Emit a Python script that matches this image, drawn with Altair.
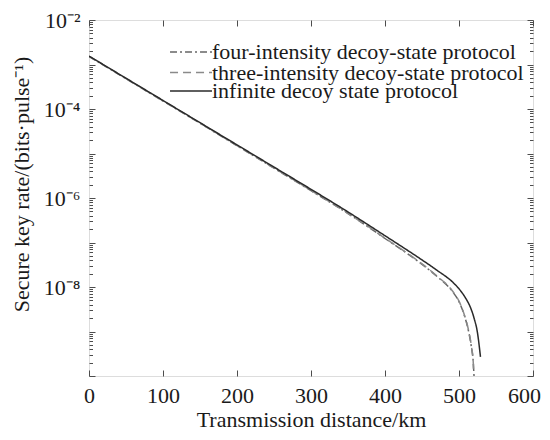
import altair as alt
import pandas as pd

# ---------------- data ----------------
series_names = [
    "four-intensity decoy-state protocol",
    "three-intensity decoy-state protocol",
    "infinite decoy state protocol",
]
series_colors = ["#666666", "#8a8a8a", "#2a2a2a"]
series_dashes = [[7, 3, 2, 3], [8, 5], [1, 0]]

four_km = [0, 50, 100, 150, 200, 250, 300, 350, 380, 400, 425, 450, 470, 492, 500, 508,
           513, 517, 519.3, 520.3]
four_rate = [1.514e-3, 4.79e-4, 1.514e-4, 4.79e-5, 1.496e-5, 4.68e-6, 1.46e-6, 4.47e-7,
             2.09e-7, 1.23e-7, 6.46e-8, 3.24e-8, 1.74e-8, 7.59e-9, 4.68e-9, 2.09e-9,
             1.0e-9, 4.17e-10, 2.0e-10, 1.0e-10]

three_km = [0, 50, 100, 150, 200, 250, 300, 350, 380, 400, 425, 450, 470, 492, 500, 508,
            513, 517, 519.2, 519.6]
three_rate = [1.53e-3, 4.84e-4, 1.53e-4, 4.84e-5, 1.51e-5, 4.73e-6, 1.48e-6, 4.52e-7,
              2.12e-7, 1.25e-7, 6.6e-8, 3.3e-8, 1.78e-8, 7.8e-9, 4.8e-9, 2.15e-9,
              1.05e-9, 4.4e-10, 2.1e-10, 1.4e-10]

inf_km = [0, 50, 100, 150, 200, 250, 300, 350, 380, 400, 425, 450, 470, 492, 500, 510,
          515, 520, 525, 529]
inf_rate = [1.549e-3, 4.91e-4, 1.556e-4, 4.93e-5, 1.563e-5, 4.95e-6, 1.57e-6, 4.86e-7,
            2.33e-7, 1.42e-7, 7.64e-8, 4.06e-8, 2.39e-8, 1.26e-8, 9.1e-9, 5.25e-9,
            3.63e-9, 2.09e-9, 9.3e-10, 2.7e-10]

x_ticks = [0, 100, 200, 300, 400, 500, 600]
y_labeled = [1e-2, 1e-4, 1e-6, 1e-8]
y_labels = ["10⁻²", "10⁻⁴", "10⁻⁶", "10⁻⁸"]
decades = [10.0 ** k for k in range(-10, -1)]
minor = [m * 10.0 ** k for k in range(-10, -2) for m in range(2, 10)]

# ---------------- table ----------------
rows = []
for name, kms, rates in [(series_names[0], four_km, four_rate),
                         (series_names[1], three_km, three_rate),
                         (series_names[2], inf_km, inf_rate)]:
    for k, r in zip(kms, rates):
        rows.append({"km": k, "rate": r, "protocol": name})
df = pd.DataFrame(rows)

W, H = 444, 356
FONT = "Liberation Serif"
FS = 22
TXT = "#1a1a1a"
FRAME = "#4d4d4d"
legend_rows_y = [21, 41.5, 60]

x_scale = alt.Scale(domain=[0, 600], nice=False, zero=False)
y_scale = alt.Scale(type="log", domain=[1e-10, 1e-2], nice=False)

label_expr = ""
for v, lab in zip(y_labeled, y_labels):
    label_expr += f"datum.value > {v / 2} ? '{lab}' : "
label_expr += "''"

x_main_axis = alt.Axis(
    orient="bottom", values=x_ticks, ticks=False, domain=False, grid=False,
    labelFont=FONT, labelFontSize=FS, labelColor=TXT, labelPadding=9, labelFlush=False,
    labelOffset={"condition": {"test": "datum.value == 600", "value": -9}, "value": 0},
    title="Transmission distance/km", titleFont=FONT, titleFontSize=FS,
    titleFontWeight="normal", titleColor=TXT, titleX=W / 2, titleY=50,
    titleAlign="center", titleBaseline="alphabetic")
y_main_axis = alt.Axis(
    orient="left", values=y_labeled, labelExpr=label_expr, ticks=False, domain=False,
    grid=False, labelFont=FONT, labelFontSize=FS, labelColor=TXT, labelPadding=9,
    title="Secure key rate/(bits·pulse⁻¹)", titleFont=FONT, titleFontSize=FS,
    titleFontWeight="normal", titleColor=TXT, titleX=-68, titleY=164,
    titleAngle=270, titleAlign="center", titleBaseline="middle")


def series_layer(i, with_axes):
    name = series_names[i]
    leg = alt.Legend(
        orient="none", legendX=91, legendY=legend_rows_y[i], title=None, padding=0,
        symbolType="M-4,0H4", symbolSize=110, symbolStrokeWidth=1.5,
        labelFont=FONT, labelFontSize=FS, labelColor=TXT, labelLimit=400,
        labelOffset=10)
    return alt.Chart(df).transform_filter(alt.datum.protocol == name).mark_line(
        clip=True, strokeWidth=1.5, interpolate="monotone"
    ).encode(
        x=alt.X("km:Q", scale=x_scale, axis=x_main_axis if with_axes else None),
        y=alt.Y("rate:Q", scale=y_scale, axis=y_main_axis if with_axes else None),
        color=alt.Color("protocol:N", scale=alt.Scale(domain=[name],
                        range=[series_colors[i]]), legend=leg),
        strokeDash=alt.StrokeDash("protocol:N", scale=alt.Scale(domain=[name],
                        range=[series_dashes[i]]), legend=leg),
    )


def tick_layer(xaxis, yaxis):
    return alt.Chart(df).mark_line(strokeOpacity=0).encode(
        x=alt.X("km:Q", scale=x_scale, axis=xaxis),
        y=alt.Y("rate:Q", scale=y_scale, axis=yaxis),
        detail="protocol:N",
    )


def tick_axis(orient, offset, values, size):
    return alt.Axis(orient=orient, offset=offset, values=values, labels=False,
                    ticks=True, tickSize=size, tickColor=FRAME, tickWidth=1,
                    domain=False, grid=False, title=None)


layers = [series_layer(0, True), series_layer(1, False), series_layer(2, False)]
# inward ticks: bottom & left edge
layers.append(tick_layer(tick_axis("top", -H, x_ticks, 6), tick_axis("right", -W, decades, 6)))
# inward ticks: top & right edge
layers.append(tick_layer(tick_axis("bottom", -H, x_ticks, 6), tick_axis("left", -W, decades, 6)))
# minor ticks left & right
layers.append(tick_layer(None, tick_axis("right", -W, minor, 3.5)))
layers.append(tick_layer(None, tick_axis("left", -W, minor, 3.5)))

chart = alt.layer(*layers).resolve_axis(
    x="independent", y="independent"
).resolve_scale(
    color="independent", strokeDash="independent"
).properties(
    width=W, height=H,
    autosize=alt.AutoSizeParams(type="none"),
    padding={"left": 81, "top": 12, "right": 9, "bottom": 56},
).configure_view(stroke=FRAME, strokeWidth=1.5).configure(background="white")

chart.save("out.html", embed_options={"renderer": "svg", "actions": False})
